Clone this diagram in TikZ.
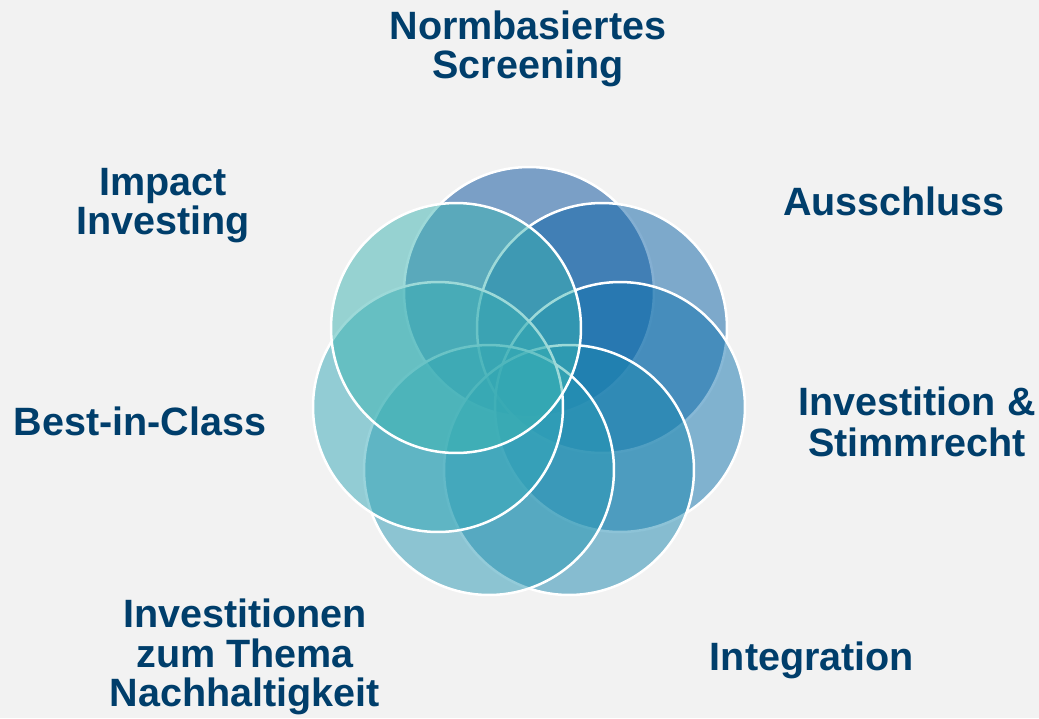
\documentclass[tikz,border=0pt]{standalone}
\usepackage{fontspec}
\setmainfont{Liberation Sans}

\definecolor{bggray}{HTML}{F2F2F2}
\definecolor{txtblue}{HTML}{003E6B}
\definecolor{cnorm}{RGB}{4,78,156}
\definecolor{caus}{RGB}{10,97,166}
\definecolor{cstimm}{RGB}{16,115,174}
\definecolor{cinteg}{RGB}{28,136,176}
\definecolor{cthema}{RGB}{40,152,180}
\definecolor{cbest}{RGB}{52,168,184}
\definecolor{cimpact}{RGB}{60,180,178}

\tikzset{
  petal/.style={draw=white, line width=0.05cm, fill opacity=0.5},
  lbl/.style={anchor=base, inner sep=0pt, text=txtblue, font=\fontsize{22.5}{24}\selectfont\bfseries}
}

\begin{document}
\begin{tikzpicture}[x=0.02cm, y=-0.02cm]


%background
\fill[bggray] (0,0) rectangle (1039,718);
\useasboundingbox (0,0) rectangle (1039,718);


%circles, clockwise from the top, upper left one last
\draw[petal, fill=cnorm] (529,292) circle (2.5cm); %Normbasiertes Screening
\draw[petal, fill=caus] (602,328) circle (2.5cm); %Ausschluss
\draw[petal, fill=cstimm] (620,407) circle (2.5cm); %Investition & Stimmrecht
\draw[petal, fill=cinteg] (569,470) circle (2.5cm); %Integration
\draw[petal, fill=cthema] (489,470) circle (2.5cm); %Nachhaltigkeit
\draw[petal, fill=cbest] (438,407) circle (2.5cm); %Best-in-Class
\draw[petal, fill=cimpact] (456,328) circle (2.5cm); %Impact Investing


%labels round the circles
\node[lbl] (norm1) at(528,39){Normbasiertes};
\node[lbl] (norm2) at(528,78){Screening};

\node[lbl] (aus) at(894,215){Ausschluss};

\node[lbl] (stimm1) at(917,415){Investition \&};
\node[lbl] (stimm2) at(917,456){Stimmrecht};

\node[lbl] (integ) at(812,670){Integration};

\node[lbl] (thema1) at(245,627){Investitionen};
\node[lbl] (thema2) at(245,667){zum Thema};
\node[lbl] (thema3) at(245,706){Nachhaltigkeit};

\node[lbl] (best) at(140,435){Best-in-Class};

\node[lbl] (impact1) at(163,195){Impact};
\node[lbl] (impact2) at(163,234){Investing};


\end{tikzpicture}
\end{document}
